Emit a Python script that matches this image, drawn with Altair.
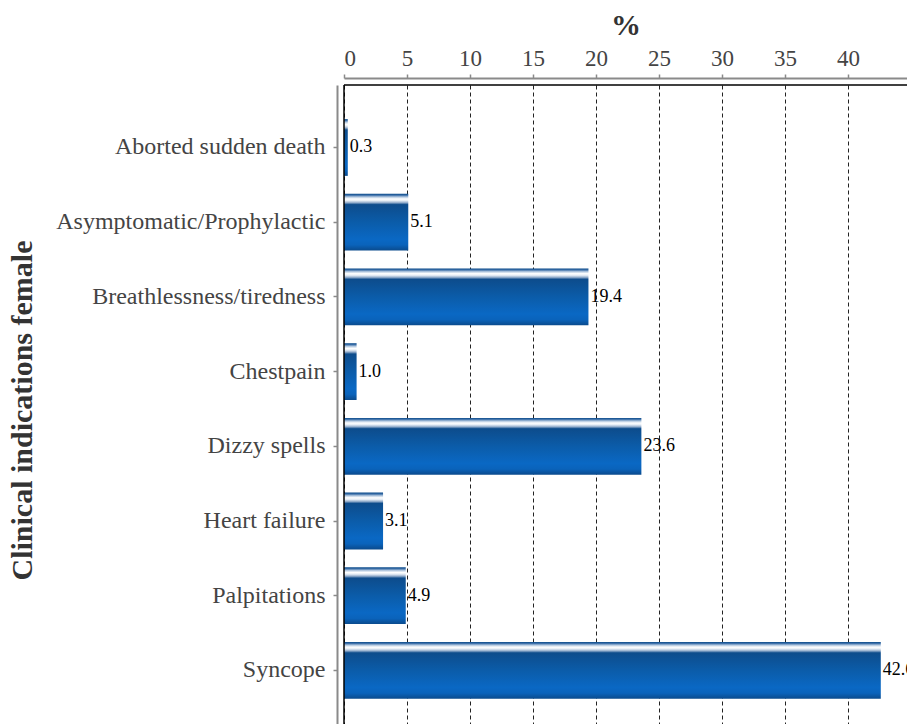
import altair as alt
import pandas as pd

# Share of female patients per clinical indication (%)
indications = [
    "Aborted sudden death",
    "Asymptomatic/Prophylactic",
    "Breathlessness/tiredness",
    "Chestpain",
    "Dizzy spells",
    "Heart failure",
    "Palpitations",
    "Syncope",
]
percent = [0.3, 5.1, 19.4, 1.0, 23.6, 3.1, 4.9, 42.6]
x_ticks = [0, 5, 10, 15, 20, 25, 30, 35, 40]

df = pd.DataFrame({"indication": indications, "pct": percent})
df["label"] = [f"{v:.1f}" for v in percent]

W, H = 563, 639
SERIF = "Liberation Serif"
AXIS_GRAY = "#8a8a8a"

# glossy blue fill: thin dark rim, white highlight near the top, deep blue body
bar_fill = alt.Gradient(
    gradient="linear",
    x1=0, x2=0, y1=0, y2=1,
    stops=[
        alt.GradientStop(offset=0.0, color="#0a4a8a"),
        alt.GradientStop(offset=0.025, color="#3a6ea8"),
        alt.GradientStop(offset=0.055, color="#b0c6de"),
        alt.GradientStop(offset=0.09, color="#ffffff"),
        alt.GradientStop(offset=0.12, color="#e6edf5"),
        alt.GradientStop(offset=0.155, color="#96afcd"),
        alt.GradientStop(offset=0.19, color="#0d4c8c"),
        alt.GradientStop(offset=0.5, color="#0b5ca9"),
        alt.GradientStop(offset=0.8, color="#0a68c4"),
        alt.GradientStop(offset=0.9, color="#0a63bb"),
        alt.GradientStop(offset=1.0, color="#0a4a8c"),
    ],
)

y_enc = alt.Y(
    "indication:N",
    sort=indications,
    scale=alt.Scale(paddingInner=0.24, paddingOuter=0.397, align=0.575),
    axis=alt.Axis(
        title="Clinical indications female",
        offset=7,
        domainColor=AXIS_GRAY,
        domainWidth=2,
        tickColor=AXIS_GRAY,
        tickWidth=1.5,
        tickSize=4,
        labelFont=SERIF,
        labelFontSize=24,
        labelColor="#444444",
        labelPadding=8,
        labelLimit=400,
        titleFont=SERIF,
        titleFontSize=30,
        titleFontWeight="bold",
        titleColor="#333333",
        titleBaseline="middle",
        titleX=-315,
        titleY=325,
    ),
)

x_enc = alt.X(
    "pct:Q",
    scale=alt.Scale(domain=[0, 44.68], nice=False, zero=True),
    axis=alt.Axis(
        orient="top",
        title="%",
        values=x_ticks,
        offset=7,
        grid=True,
        gridDash=[4, 3],
        gridColor="#222222",
        gridWidth=1,
        domainColor=AXIS_GRAY,
        domainWidth=2,
        tickColor=AXIS_GRAY,
        tickWidth=1.5,
        tickSize=4,
        labelFont=SERIF,
        labelFontSize=23,
        labelColor="#444444",
        labelPadding=4,
        titleFont=SERIF,
        titleFontSize=30,
        titleFontWeight="bold",
        titleColor="#333333",
        titlePadding=7,
    ),
)

base = alt.Chart(df)

bars = base.mark_bar(color=bar_fill).encode(x=x_enc, y=y_enc)

labels = base.mark_text(
    align="left", baseline="middle", dx=2, font=SERIF, fontSize=18,
    color="black", clip=True,
).encode(x="pct:Q", y=alt.Y("indication:N", sort=indications), text="label:N")

frame_src = alt.Chart(pd.DataFrame({"k": [0]}))
left_edge = frame_src.mark_rule(color="black", strokeWidth=1.5).encode(
    x=alt.value(0), y=alt.value(0), y2=alt.value(H)
)
top_edge = frame_src.mark_rule(color="black", strokeWidth=1.5).encode(
    x=alt.value(0), x2=alt.value(W), y=alt.value(0)
)

chart = (
    alt.layer(bars, labels, left_edge, top_edge)
    .properties(
        width=W,
        height=H,
        autosize=alt.AutoSizeParams(type="none"),
        padding={"left": 344, "top": 85, "right": 0, "bottom": 0},
        background="white",
    )
    .configure_view(stroke=None)
)

chart.save("out.html", embed_options={"renderer": "svg", "actions": False})
